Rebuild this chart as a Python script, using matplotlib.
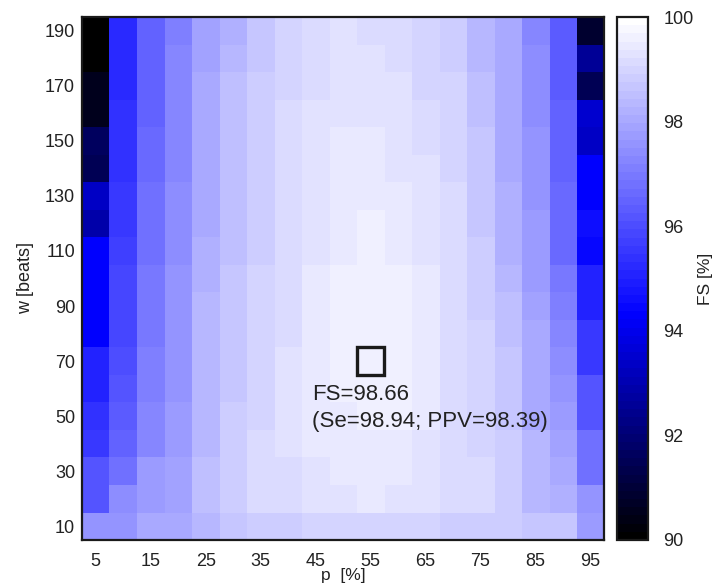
import numpy as np
import matplotlib
matplotlib.use("Agg")
import matplotlib.pyplot as plt
from matplotlib.colors import LinearSegmentedColormap
from matplotlib.patches import Rectangle

plt.rcParams['font.family'] = ['Liberation Sans', 'DejaVu Sans']

# p [%] columns and w [beats] rows
p_vals = [5, 10, 15, 20, 25, 30, 35, 40, 45, 50, 55, 60, 65, 70, 75, 80, 85, 90, 95]
w_vals = [10, 20, 30, 40, 50, 60, 70, 80, 90, 100, 110, 120, 130, 140, 150, 160, 170, 180, 190]

# FS [%] per p column, listed from w=190 (top) down to w=10 (bottom)
fs_p05 = [89.8, 89.8, 90.5, 90.5, 91.7, 91.5, 93.4, 92.9, 94.3, 94.3, 94.3, 94.3, 95.0, 95.0, 95.4, 95.5, 96.1, 96.1, 97.5]
fs_p10 = [95.2, 95.25, 95.3, 95.35, 95.35, 95.45, 95.5, 95.6, 95.7, 95.9, 95.9, 95.9, 96.05, 96.2, 96.3, 96.45, 96.8, 97.35, 97.5]
fs_p15 = [96.45, 96.5, 96.5, 96.55, 96.6, 96.6, 96.75, 96.8, 96.85, 96.95, 97.0, 97.0, 97.05, 97.1, 97.2, 97.2, 97.7, 97.7, 98.1]
fs_p20 = [97.15, 97.2, 97.25, 97.25, 97.3, 97.3, 97.35, 97.4, 97.4, 97.5, 97.5, 97.55, 97.55, 97.6, 97.75, 97.75, 97.9, 97.95, 98.1]
fs_p25 = [97.95, 97.95, 98.0, 98.0, 98.0, 98.0, 98.1, 98.1, 98.15, 98.25, 98.3, 98.3, 98.3, 98.3, 98.35, 98.35, 98.45, 98.45, 98.4]
fs_p30 = [98.25, 98.3, 98.45, 98.45, 98.45, 98.5, 98.5, 98.5, 98.55, 98.6, 98.65, 98.65, 98.65, 98.7, 98.85, 98.85, 98.85, 98.85, 98.7]
fs_p35 = [98.6, 98.65, 98.8, 98.85, 98.85, 98.85, 98.9, 98.9, 98.9, 99.0, 99.0, 99.05, 99.05, 99.05, 99.05, 99.1, 99.1, 99.1, 98.85]
fs_p40 = [98.95, 99.0, 99.05, 99.1, 99.1, 99.1, 99.15, 99.15, 99.15, 99.2, 99.2, 99.2, 99.25, 99.25, 99.25, 99.25, 99.2, 99.2, 98.9]
fs_p45 = [99.2, 99.2, 99.2, 99.25, 99.25, 99.3, 99.35, 99.35, 99.35, 99.4, 99.45, 99.45, 99.45, 99.45, 99.4, 99.4, 99.35, 99.3, 98.95]
fs_p50 = [99.3, 99.35, 99.35, 99.35, 99.45, 99.5, 99.5, 99.5, 99.5, 99.55, 99.55, 99.55, 99.55, 99.55, 99.5, 99.5, 99.4, 99.35, 99.0]
fs_p55 = [99.15, 99.3, 99.3, 99.3, 99.45, 99.45, 99.5, 99.55, 99.55, 99.6, 99.6, 99.6, 99.6, 99.6, 99.6, 99.5, 99.4, 99.4, 99.0]
fs_p60 = [99.2, 99.2, 99.3, 99.3, 99.3, 99.35, 99.45, 99.5, 99.5, 99.55, 99.55, 99.55, 99.55, 99.55, 99.55, 99.45, 99.4, 99.35, 98.95]
fs_p65 = [99.0, 99.05, 99.05, 99.1, 99.15, 99.25, 99.3, 99.3, 99.35, 99.4, 99.4, 99.4, 99.4, 99.4, 99.4, 99.35, 99.3, 99.3, 98.95]
fs_p70 = [98.75, 98.8, 98.95, 98.95, 98.95, 99.0, 99.1, 99.1, 99.15, 99.15, 99.2, 99.2, 99.2, 99.2, 99.2, 99.2, 99.15, 99.15, 98.85]
fs_p75 = [98.4, 98.4, 98.45, 98.55, 98.6, 98.6, 98.6, 98.65, 98.75, 98.8, 98.9, 98.95, 98.95, 98.95, 98.95, 99.05, 99.1, 99.1, 98.85]
fs_p80 = [98.0, 98.05, 98.05, 98.1, 98.1, 98.1, 98.2, 98.2, 98.25, 98.35, 98.5, 98.55, 98.6, 98.6, 98.6, 98.75, 98.8, 98.8, 98.85]
fs_p85 = [97.3, 97.35, 97.35, 97.4, 97.5, 97.5, 97.55, 97.7, 97.7, 97.8, 97.95, 98.0, 98.05, 98.05, 98.05, 98.3, 98.35, 98.35, 98.6]
fs_p90 = [96.35, 96.35, 96.4, 96.45, 96.45, 96.45, 96.6, 96.6, 96.65, 97.0, 97.15, 97.3, 97.35, 97.5, 97.7, 97.9, 98.05, 98.2, 98.6]
fs_p95 = [90.8, 92.5, 91.5, 93.5, 93.3, 94.3, 94.3, 94.65, 94.4, 95.1, 95.0, 95.5, 95.5, 96.1, 96.1, 96.8, 96.8, 97.5, 97.7]

cols = [fs_p05, fs_p10, fs_p15, fs_p20, fs_p25, fs_p30, fs_p35, fs_p40, fs_p45, fs_p50,
        fs_p55, fs_p60, fs_p65, fs_p70, fs_p75, fs_p80, fs_p85, fs_p90, fs_p95]

# rows = w ascending, columns = p ascending
Z = np.array(cols).T[::-1]

best_p, best_w = 55, 70
note1 = "FS=98.66"
note2 = "(Se=98.94; PPV=98.39)"

cmap = LinearSegmentedColormap.from_list(
    "kbw", [(0.0, "black"), (0.43, "blue"), (1.0, "white")], N=64)

txt = "#222222"
fig = plt.figure(figsize=(7.13, 5.87), dpi=100)
ax = fig.add_axes([82/713, 47/587, 522/713, 523/587])
cax = fig.add_axes([617/713, 47/587, 31/713, 523/587])

dp = p_vals[1] - p_vals[0]
dw = w_vals[1] - w_vals[0]
im = ax.imshow(Z, origin="lower", cmap=cmap, vmin=90, vmax=100, aspect="auto",
               interpolation="nearest",
               extent=[p_vals[0] - dp/2, p_vals[-1] + dp/2, w_vals[0] - dw/2, w_vals[-1] + dw/2])

ax.set_xticks(p_vals[::2])
ax.set_yticks(w_vals[::2])
ax.tick_params(axis="x", length=0, pad=9, labelsize=13, labelcolor=txt)
ax.tick_params(axis="y", length=0, pad=5, labelsize=13, labelcolor=txt)
ax.set_xlabel("p  [%]", fontsize=12.5, color=txt, labelpad=-1)
ax.set_ylabel("w [beats]", fontsize=13, color=txt, labelpad=8)
for s in ax.spines.values():
    s.set_linewidth(1.6)
    s.set_color("#1a1a1a")

ax.add_patch(Rectangle((best_p - dp/2, best_w - dw/2), dp, dw,
                       fill=False, edgecolor="#1a1a1a", linewidth=2.4))
ax.text(44.3, 56.0, note1, fontsize=16, color=txt, va="baseline", ha="left")
ax.text(44.3, 46.2, note2, fontsize=16, color=txt, va="baseline", ha="left")

cb = fig.colorbar(im, cax=cax, ticks=[90, 92, 94, 96, 98, 100])
cb.ax.tick_params(length=0, pad=11, labelsize=13, labelcolor=txt)
cb.outline.set_linewidth(1.6)
cb.outline.set_edgecolor("#1a1a1a")
cb.set_label("FS [%]", fontsize=12.5, color=txt, labelpad=3)

fig.savefig("out.png", dpi=100)
